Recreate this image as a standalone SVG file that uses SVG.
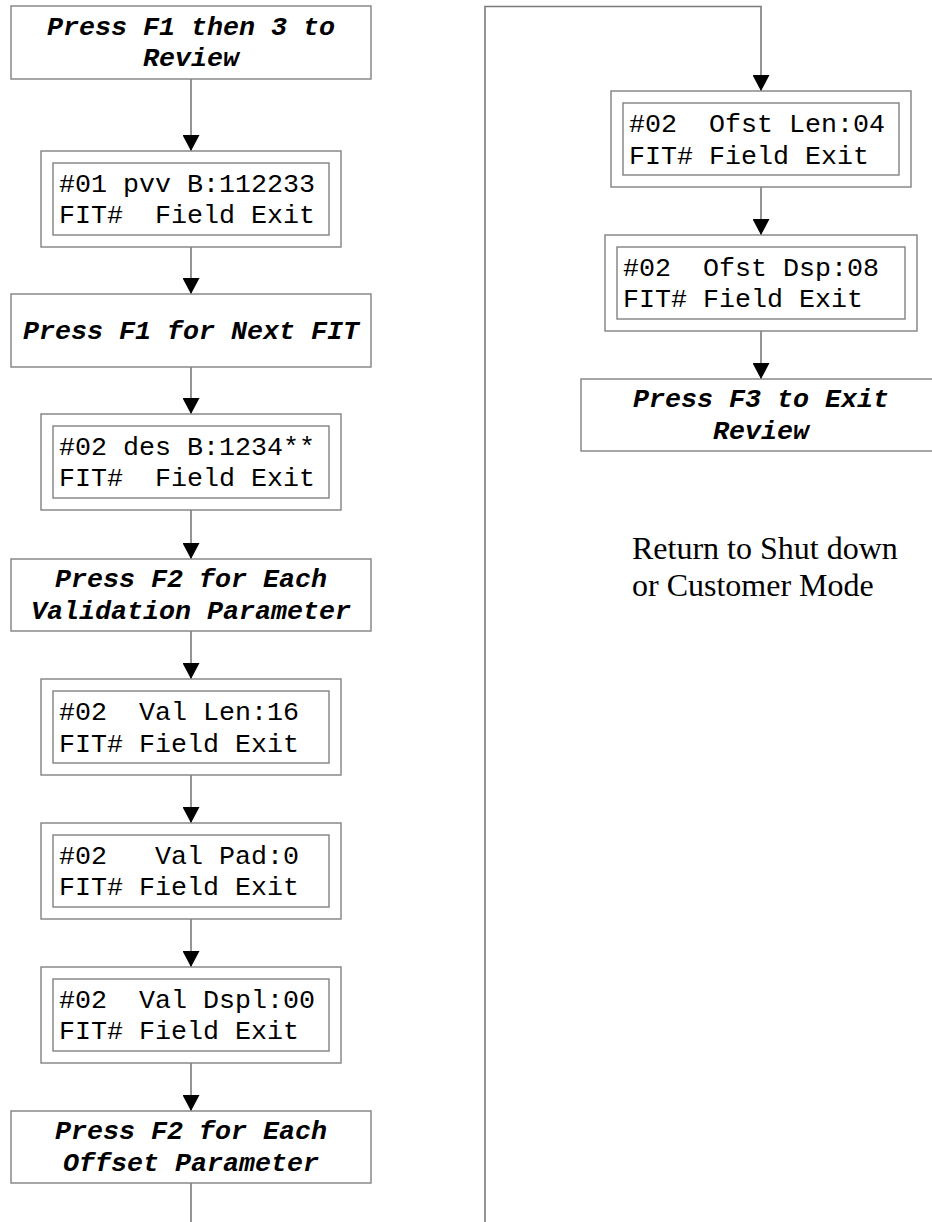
<svg xmlns="http://www.w3.org/2000/svg" width="932" height="1222" viewBox="0 0 932 1222">
<style>
.box{fill:#fff;stroke:#808080;stroke-width:1.4}
.ln{fill:none;stroke:#7a7a7a;stroke-width:1.6}
.t{font-family:"Liberation Mono","Courier New",monospace;font-size:26.67px;font-weight:bold;font-style:italic;fill:#000;text-anchor:middle}
.m{font-family:"Liberation Mono","Courier New",monospace;font-size:26.67px;fill:#000}
.r{font-family:"Liberation Serif","Times New Roman",serif;font-size:32px;fill:#000}
</style>
<defs>
<marker id="ah" markerUnits="userSpaceOnUse" markerWidth="16" markerHeight="17" refX="15" refY="8" orient="auto" viewBox="0 0 15 16">
<path d="M0,0 L15,8 L0,16 Z" fill="#000"/>
</marker>
</defs>
<g id="connectors">
<line class="ln" x1="191" y1="79" x2="191" y2="151" marker-end="url(#ah)"/>
<line class="ln" x1="191" y1="247" x2="191" y2="294" marker-end="url(#ah)"/>
<line class="ln" x1="191" y1="367" x2="191" y2="414" marker-end="url(#ah)"/>
<line class="ln" x1="191" y1="510" x2="191" y2="559" marker-end="url(#ah)"/>
<line class="ln" x1="191" y1="631" x2="191" y2="679" marker-end="url(#ah)"/>
<line class="ln" x1="191" y1="775" x2="191" y2="823" marker-end="url(#ah)"/>
<line class="ln" x1="191" y1="919" x2="191" y2="967" marker-end="url(#ah)"/>
<line class="ln" x1="191" y1="1063" x2="191" y2="1111" marker-end="url(#ah)"/>
<line class="ln" x1="191" y1="1183" x2="191" y2="1224"/>
<polyline class="ln" points="485,1224 485,6.5 761,6.5 761,91" marker-end="url(#ah)"/>
<line class="ln" x1="761" y1="187" x2="761" y2="235" marker-end="url(#ah)"/>
<line class="ln" x1="761" y1="331" x2="761" y2="379" marker-end="url(#ah)"/>
</g>
<g id="n1">
<rect class="box" x="11" y="6" width="360" height="73"/>
<text class="t" x="191" y="35">Press F1 then 3 to</text>
<text class="t" x="191" y="65.5">Review</text>
</g>
<g id="n2">
<rect class="box" x="41" y="151" width="300" height="96"/>
<rect class="box" x="53" y="163" width="276" height="72"/>
<text class="m" x="59" y="192" xml:space="preserve">#01 pvv B:112233</text>
<text class="m" x="59" y="223" xml:space="preserve">FIT#  Field Exit</text>
</g>
<g id="n3">
<rect class="box" x="11" y="294" width="360" height="73"/>
<text class="t" x="191" y="339">Press F1 for Next FIT</text>
</g>
<g id="n4">
<rect class="box" x="41" y="414" width="300" height="96"/>
<rect class="box" x="53" y="426" width="276" height="72"/>
<text class="m" x="59" y="455" xml:space="preserve">#02 des B:1234**</text>
<text class="m" x="59" y="486" xml:space="preserve">FIT#  Field Exit</text>
</g>
<g id="n5">
<rect class="box" x="11" y="559" width="360" height="72"/>
<text class="t" x="191" y="587">Press F2 for Each</text>
<text class="t" x="191" y="618.5">Validation Parameter</text>
</g>
<g id="n6">
<rect class="box" x="41" y="679" width="300" height="96"/>
<rect class="box" x="53" y="691" width="276" height="72"/>
<text class="m" x="59" y="720" xml:space="preserve">#02  Val Len:16</text>
<text class="m" x="59" y="752" xml:space="preserve">FIT# Field Exit</text>
</g>
<g id="n7">
<rect class="box" x="41" y="823" width="300" height="96"/>
<rect class="box" x="53" y="835" width="276" height="72"/>
<text class="m" x="59" y="864" xml:space="preserve">#02   Val Pad:0</text>
<text class="m" x="59" y="895" xml:space="preserve">FIT# Field Exit</text>
</g>
<g id="n8">
<rect class="box" x="41" y="967" width="300" height="96"/>
<rect class="box" x="53" y="979" width="276" height="72"/>
<text class="m" x="59" y="1008" xml:space="preserve">#02  Val Dspl:00</text>
<text class="m" x="59" y="1039" xml:space="preserve">FIT# Field Exit</text>
</g>
<g id="n9">
<rect class="box" x="11" y="1111" width="360" height="72"/>
<text class="t" x="191" y="1139">Press F2 for Each</text>
<text class="t" x="191" y="1170.5">Offset Parameter</text>
</g>
<g id="r1">
<rect class="box" x="611" y="91" width="300" height="96"/>
<rect class="box" x="623" y="103" width="276" height="72"/>
<text class="m" x="629" y="132" xml:space="preserve">#02  Ofst Len:04</text>
<text class="m" x="629" y="163.5" xml:space="preserve">FIT# Field Exit</text>
</g>
<g id="r2">
<rect class="box" x="605" y="235" width="312" height="96"/>
<rect class="box" x="617" y="247" width="288" height="72"/>
<text class="m" x="623" y="276" xml:space="preserve">#02  Ofst Dsp:08</text>
<text class="m" x="623" y="307" xml:space="preserve">FIT# Field Exit</text>
</g>
<g id="r3">
<rect class="box" x="581" y="379" width="360" height="72"/>
<text class="t" x="761" y="407">Press F3 to Exit</text>
<text class="t" x="761" y="438.5">Review</text>
</g>
<g id="note">
<text class="r" x="632" y="559">Return to Shut down</text>
<text class="r" x="632" y="596">or Customer Mode</text>
</g>
</svg>
